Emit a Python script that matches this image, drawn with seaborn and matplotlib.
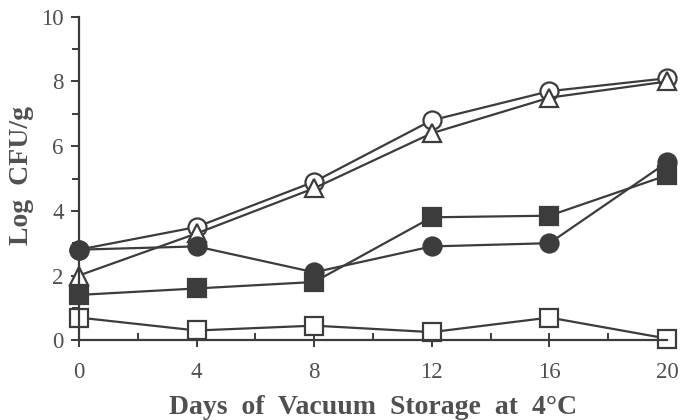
import numpy as np
import pandas as pd
import matplotlib
matplotlib.use("Agg")
import matplotlib.pyplot as plt
import seaborn as sns
from matplotlib.ticker import MultipleLocator

# data
days = [0, 4, 8, 12, 16, 20]
open_circle = [2.8, 3.5, 4.9, 6.8, 7.7, 8.1]
open_triangle = [2.0, 3.3, 4.7, 6.4, 7.5, 8.0]
filled_circle = [2.8, 2.9, 2.1, 2.9, 3.0, 5.5]
filled_square = [1.4, 1.6, 1.8, 3.8, 3.85, 5.1]
open_square = [0.7, 0.3, 0.45, 0.25, 0.7, 0.05]

ink = "#3c3c3c"
label_ink = "#505050"

sns.set_theme(style="white")
plt.rcParams["font.family"] = ["Liberation Serif", "DejaVu Serif"]

fig = plt.figure(figsize=(6.8, 4.2), dpi=100)
ax = fig.add_axes([0.116, 0.19, 0.865, 0.77])

series = [
    (open_circle, "o", "white"),
    (open_triangle, "^", "white"),
    (filled_circle, "o", ink),
    (filled_square, "s", ink),
    (open_square, "s", "white"),
]
for vals, mk, face in series:
    df = pd.DataFrame({"day": days, "cfu": vals})
    sns.lineplot(data=df, x="day", y="cfu", ax=ax, color=ink, lw=1.6,
                 marker=mk, markersize=13, markerfacecolor=face,
                 markeredgecolor=ink, markeredgewidth=1.6, clip_on=False)

ax.set_xlim(0, 20)
ax.set_ylim(0, 10)
ax.xaxis.set_major_locator(MultipleLocator(4))
ax.xaxis.set_minor_locator(MultipleLocator(2))
ax.yaxis.set_major_locator(MultipleLocator(2))
ax.yaxis.set_minor_locator(MultipleLocator(1))

for s in ["top", "right"]:
    ax.spines[s].set_visible(False)
for s in ["left", "bottom"]:
    ax.spines[s].set_color(ink)
    ax.spines[s].set_linewidth(1.6)

ax.tick_params(axis="x", which="major", direction="inout", length=10, width=1.4,
               color=ink, labelcolor=label_ink, labelsize=16.5, pad=11)
ax.tick_params(axis="x", which="minor", direction="in", length=5, width=1.4, color=ink)
ax.tick_params(axis="y", which="major", direction="out", length=6, width=1.4,
               color=ink, labelcolor=label_ink, labelsize=16.5, pad=5)
ax.tick_params(axis="y", which="minor", direction="out", length=5, width=1.4, color=ink)
ax.tick_params(bottom=True, left=True, which="both")

ax.set_xlabel("Days  of  Vacuum  Storage  at  4°C", fontsize=20, fontweight="bold",
              color=label_ink)
ax.xaxis.set_label_coords(0.5, -0.17, transform=ax.transAxes)
ax.xaxis.label.set_va("top")
ax.set_ylabel("Log  CFU/g", fontsize=20, fontweight="bold", color=label_ink)
ax.yaxis.set_label_coords(-0.077, 0.51, transform=ax.transAxes)

fig.savefig("out.png", dpi=100, facecolor="white")
